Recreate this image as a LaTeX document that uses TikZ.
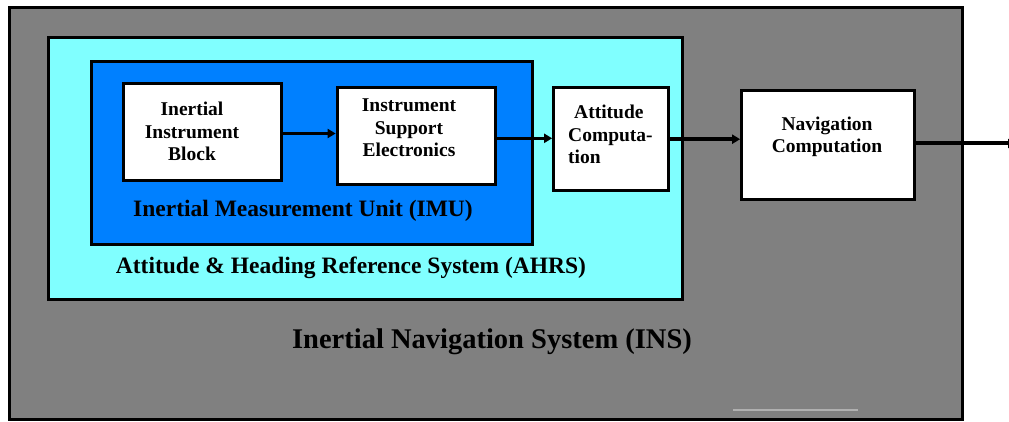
\documentclass[tikz,border=0pt]{standalone}
\usepackage{fontspec}
\setmainfont{Liberation Serif}
\usetikzlibrary{arrows.meta}
\definecolor{insgray}{RGB}{128,128,128}
\definecolor{ahrscyan}{RGB}{128,255,255}
\definecolor{imublue}{RGB}{0,128,255}
\definecolor{scuff}{RGB}{176,176,176}
\begin{document}
\begin{tikzpicture}[x=1pt,y=-1pt,line join=miter,>={Triangle[length=8pt,width=9pt]}]
	\tikzset{blk/.style={draw,line width=3.3pt,fill=white,inner sep=0pt},
		blktext/.style={font=\fontsize{19.5}{22.5}\selectfont\bfseries,align=center,anchor=base,inner sep=0pt},
		systext/.style={font=\fontsize{23.5}{26}\selectfont\bfseries,anchor=base,inner sep=0pt},
		flow/.style={->,line width=3.5pt}}
	\useasboundingbox (0,0) rectangle (1009,422);
	\fill[white] (0,0) rectangle (1009,422);
	% nested system frames
	\draw[fill=insgray,line width=3pt] (9.5,8) rectangle (962.5,419.5);
	\draw[fill=ahrscyan,line width=3pt] (48,38) rectangle (682,299);
	\draw[fill=imublue,line width=3pt] (91,62) rectangle (532.5,244);
	\draw[scuff,line width=2pt] (733,410) -- (858,410);
	% blocks
	\node[blk,minimum width=158pt,minimum height=97pt] (iib) at (202.2,132) {};
	\node[blk,minimum width=158pt,minimum height=97pt] (ise) at (416.3,135.8) {};
	\node[blk,minimum width=115pt,minimum height=103pt] (ac) at (611.3,139.2) {};
	\node[blk,minimum width=173pt,minimum height=109pt] (nc) at (828.3,145.3) {};
	\coordinate (out) at (1016,143.5);
	% block texts (base = last line)
	\node[blktext] (iibt) at (192,161) {Inertial\\Instrument\\Block};
	\node[blktext] (iset) at (409,157) {Instrument\\Support\\Electronics};
	\node[blktext,align=left,anchor=base west] (act) at (568,164) {\hspace{6pt}Attitude\\Computa-\\tion};
	\node[blktext] (nct) at (827,153) {Navigation\\Computation};
	% system labels
	\node[systext] (imu) at (303,216.7) {Inertial Measurement Unit (IMU)};
	\node[systext] (ahrs) at (351,273) {Attitude \& Heading Reference System (AHRS)};
	\node[systext,font=\fontsize{28.5}{31}\selectfont\bfseries] (ins) at (492,348) {Inertial Navigation System (INS)};
	% signal flow
	\draw[flow] ([yshift=-1.5pt]iib.east) -- ([yshift=-1.5pt]iib.east -| ise.west);
	\draw[flow] ([yshift=-2.5pt]ise.east) -- ([yshift=-2.5pt]ise.east -| ac.west);
	\draw[flow] (ac.east) -- (ac.east -| nc.west);
	\draw[flow,line width=4pt] (nc.east |- out) -- (out);
\end{tikzpicture}
\end{document}
